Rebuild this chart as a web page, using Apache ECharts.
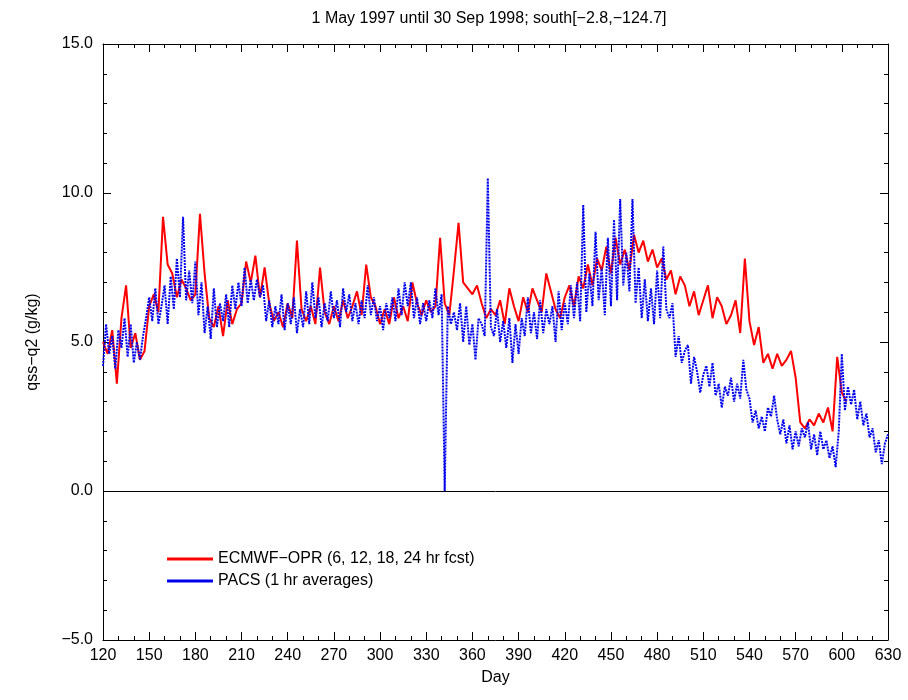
<!DOCTYPE html>
<html>
<head>
<meta charset="utf-8">
<script src="https://cdn.jsdelivr.net/npm/echarts@6/dist/echarts.min.js"></script>
<style>html,body{margin:0;background:#fff}#main{width:908px;height:700px}</style>
</head>
<body>
<div id="main"></div>
<script>
// ECMWF-OPR, one value every 3 days from day 120
var redStart = 120, redStep = 3
var redVals = [
 5.0,4.6,5.4,3.6,5.8,6.9,4.8,5.3,4.4,4.7,
 6.2,6.6,6.0,9.2,7.6,7.3,6.5,7.1,6.8,6.4,
 6.6,9.3,7.3,5.8,5.5,6.2,5.2,6.4,5.6,6.1,
 6.3,7.7,7.0,7.9,6.5,7.5,6.3,5.7,6.0,5.5,
 6.3,5.8,8.4,6.1,5.7,6.2,5.6,7.5,6.0,5.6,
 6.2,5.7,6.4,5.8,6.2,6.7,5.9,7.6,6.5,6.2,
 5.6,6.1,5.6,6.5,5.8,6.2,5.7,7.0,6.3,5.9,
 6.4,6.0,6.2,8.5,6.3,5.9,7.4,9.0,7.0,6.8,
 6.6,6.9,6.3,5.8,6.1,5.9,6.4,5.6,6.8,6.2,
 5.7,6.5,6.0,6.8,6.4,6.0,7.3,6.7,6.1,5.8,
 6.5,6.9,6.2,7.2,6.8,7.6,6.9,7.8,7.4,8.2,
 7.3,8.5,7.6,8.1,7.4,8.6,8.0,8.4,7.7,8.1,
 7.5,7.8,7.1,7.4,6.6,7.2,6.9,6.2,6.7,5.9,
 6.4,6.9,5.8,6.5,6.2,5.6,5.9,6.4,5.3,7.8,
 5.7,4.9,5.5,4.3,4.6,4.1,4.6,4.2,4.4,4.7,
 3.8,2.3,2.1,2.4,2.2,2.6,2.3,2.8,2.0,4.5,
 3.3,3.0
]
// PACS, one value every 2 days from day 120
var blueStart = 120, blueStep = 2
var blueVals = [
 4.2,5.6,4.6,5.2,4.1,5.4,4.8,5.8,4.5,5.6,
 4.3,5.0,4.4,5.2,5.8,6.5,5.7,6.8,5.6,6.2,
 6.9,5.6,7.2,6.1,7.8,6.5,9.2,6.4,7.4,6.3,
 7.7,5.9,7.0,5.3,6.2,5.1,6.8,5.5,6.3,5.7,
 6.6,5.5,6.9,6.1,7.0,6.2,7.5,6.3,7.1,6.4,
 7.1,6.5,6.9,5.7,6.4,5.5,6.2,5.6,6.6,5.4,
 6.3,5.6,6.5,5.3,6.1,5.5,6.7,5.6,7.0,5.8,
 6.5,5.5,6.3,5.7,6.7,5.8,6.4,5.5,6.8,6.0,
 6.6,5.7,6.3,5.6,6.4,5.8,6.9,5.9,6.5,5.7,
 6.2,5.4,6.3,5.8,6.5,5.7,6.8,5.9,7.0,6.2,
 7.0,5.8,6.5,5.6,6.3,5.7,6.4,5.8,6.8,5.9,
 6.6,0.0,6.2,5.6,6.0,5.4,6.3,5.0,6.2,4.9,
 5.6,4.4,5.8,5.6,5.2,10.5,5.5,5.2,6.1,5.0,
 5.7,4.8,5.8,4.3,5.6,4.6,5.8,5.2,6.5,5.3,
 6.0,5.1,6.4,5.3,6.1,5.6,6.2,5.0,6.7,5.4,
 6.3,5.6,6.9,5.8,7.0,5.7,9.6,6.0,7.3,6.2,
 8.7,6.4,7.5,5.9,8.5,6.2,9.1,6.4,9.8,6.9,
 8.0,6.7,9.8,6.3,7.5,5.8,7.1,5.7,6.8,5.6,
 7.4,5.8,8.2,6.1,5.8,6.3,4.5,5.2,4.3,4.7,
 4.9,3.6,4.5,4.0,3.3,3.9,4.2,3.5,4.3,3.2,
 3.6,2.8,3.5,3.2,3.8,3.0,3.6,3.1,4.4,3.4,
 3.1,2.3,2.7,2.1,2.5,2.0,2.8,2.5,3.2,2.4,
 1.9,2.4,1.6,2.2,1.4,2.0,1.5,2.1,1.8,2.3,
 1.4,1.9,1.2,2.0,1.4,1.7,1.1,1.5,0.8,2.0,
 4.6,2.7,3.5,2.9,3.4,2.4,3.0,2.2,2.6,1.8,
 2.1,1.3,1.7,0.9,1.6,1.9
]

function pairs(start, step, vals){
	return vals.map(function(v,i){ return [start+step*i, v] })
}

var font = 'Liberation Sans, Arial, sans-serif'
var tickStyle = {color:'#000',width:1}
function xAx(pos, labels){
	return {type:'value',position:pos,min:120,max:630,interval:30,
		axisLine:{show:true,onZero:false,lineStyle:tickStyle},
		axisTick:{inside:true,length:8,lineStyle:tickStyle},
		minorTick:{show:true,splitNumber:3,length:4,lineStyle:tickStyle},
		splitLine:{show:false},
		axisLabel:{show:labels,color:'#000',fontSize:16,fontFamily:font,margin:8},
		name:labels?'Day':'',nameLocation:'middle',nameGap:30,
		nameTextStyle:{color:'#000',fontSize:16,fontFamily:font}}
}
function yAx(pos, labels){
	return {type:'value',position:pos,min:-5,max:15,interval:5,
		axisLine:{show:true,onZero:false,lineStyle:tickStyle},
		axisTick:{inside:true,length:8,lineStyle:tickStyle},
		minorTick:{show:true,splitNumber:5,length:4,lineStyle:tickStyle},
		splitLine:{show:false},
		axisLabel:{show:labels,color:'#000',fontSize:16,fontFamily:font,margin:10,
			formatter:function(v){return (v<0?'\u2212':'')+Math.abs(v).toFixed(1)}},
		name:labels?'qss\u2212q2 (g/kg)':'',nameLocation:'middle',nameGap:62,
		nameTextStyle:{color:'#000',fontSize:16,fontFamily:font}}
}

var chart = echarts.init(document.getElementById('main'))
chart.setOption({
	animation:false,
	title:{text:'1 May 1997 until 30 Sep 1998; south[\u22122.8,\u2212124.7]',left:484,top:6,textAlign:'center',
		textStyle:{color:'#000',fontSize:16,fontWeight:'normal',fontFamily:font}},
	grid:{left:103,right:20,top:44,bottom:60},
	xAxis:[xAx('bottom',true),xAx('top',false)],
	yAxis:[yAx('left',true),yAx('right',false)],
	legend:{orient:'vertical',left:162,top:546,itemGap:6,itemWidth:46,itemHeight:3,icon:'rect',
		textStyle:{color:'#000',fontSize:16,fontFamily:font},
		data:['ECMWF\u2212OPR (6, 12, 18, 24 hr fcst)','PACS (1 hr averages)']},
	series:[
		{name:'ECMWF\u2212OPR (6, 12, 18, 24 hr fcst)',type:'line',showSymbol:false,
			data:pairs(redStart,redStep,redVals),color:'#ff0000',lineStyle:{width:2,color:'#ff0000'},
			markLine:{silent:true,symbol:'none',label:{show:false},lineStyle:{color:'#000',width:1,type:'solid'},data:[{yAxis:0}]}},
		{name:'PACS (1 hr averages)',type:'line',showSymbol:false,
			data:pairs(blueStart,blueStep,blueVals),color:'#0000ee',lineStyle:{width:2,color:'#0000ee',type:[2,1]}}
	]
})
</script>
</body>
</html>
